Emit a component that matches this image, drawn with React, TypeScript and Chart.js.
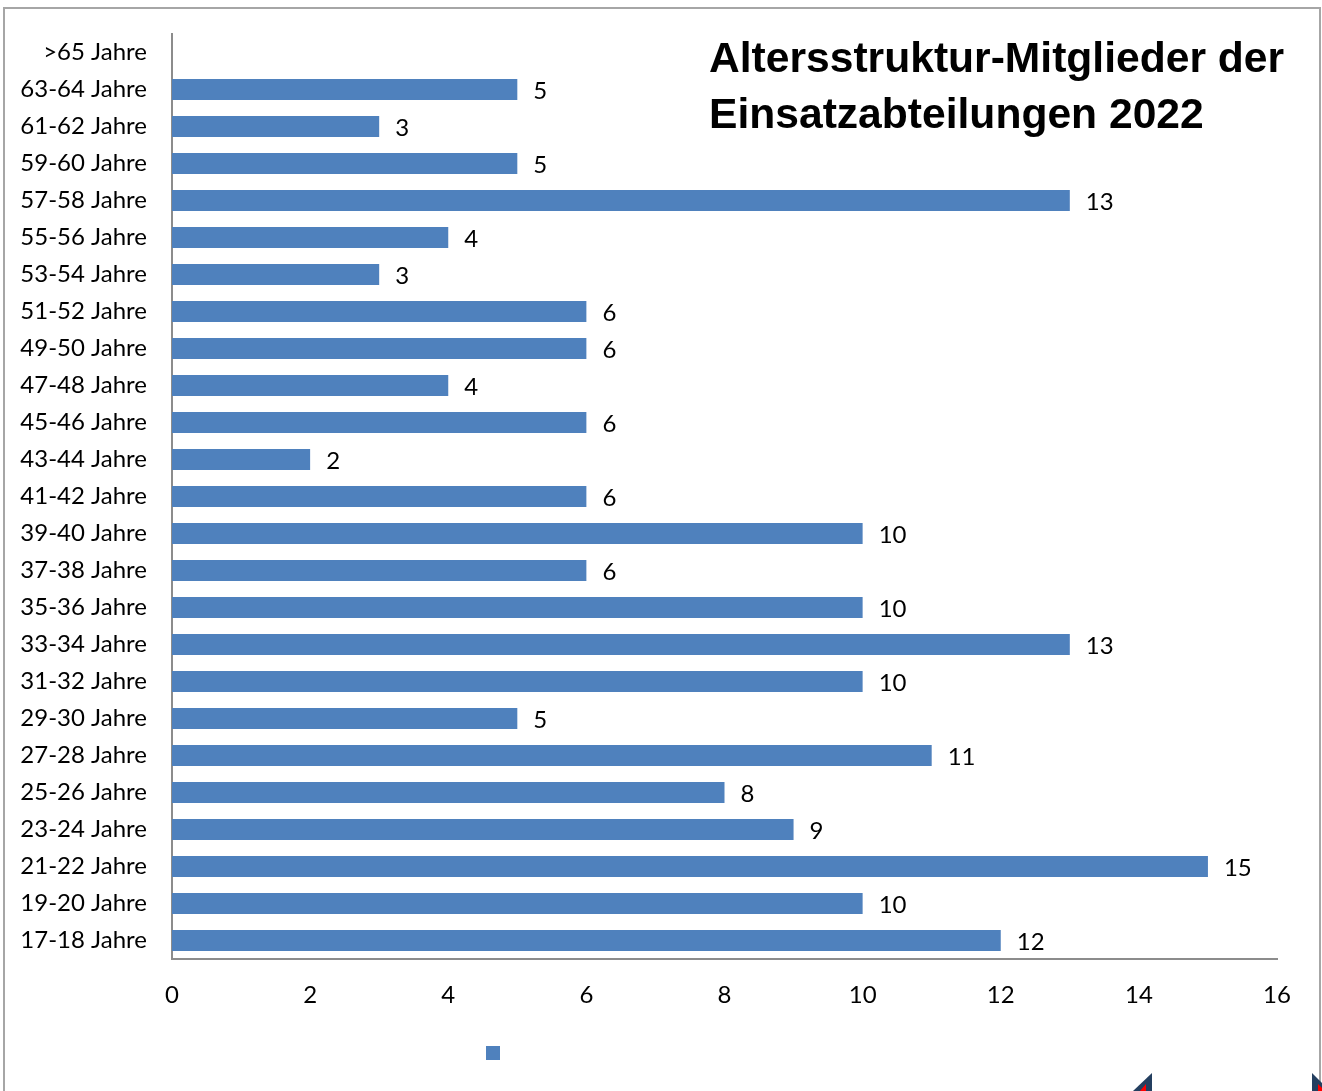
import React, { useEffect, useRef } from "react";
import { Chart, registerables } from "chart.js";

Chart.register(...registerables);

const categories: string[] = [
  ">65 Jahre", "63-64 Jahre", "61-62 Jahre", "59-60 Jahre", "57-58 Jahre",
  "55-56 Jahre", "53-54 Jahre", "51-52 Jahre", "49-50 Jahre", "47-48 Jahre",
  "45-46 Jahre", "43-44 Jahre", "41-42 Jahre", "39-40 Jahre", "37-38 Jahre",
  "35-36 Jahre", "33-34 Jahre", "31-32 Jahre", "29-30 Jahre", "27-28 Jahre",
  "25-26 Jahre", "23-24 Jahre", "21-22 Jahre", "19-20 Jahre", "17-18 Jahre",
];

const members: (number | null)[] = [
  null, 5, 3, 5, 13,
  4, 3, 6, 6, 4,
  6, 2, 6, 10, 6,
  10, 13, 10, 5, 11,
  8, 9, 15, 10, 12,
];

const titleLines: string[] = ["Altersstruktur-Mitglieder der", "Einsatzabteilungen 2022"];

const BAR = "#4F81BD";
const AXIS = "#8C8C8C";
const LABEL_FONT = "Lato, 'Open Sans', sans-serif";

const overlayPlugin = {
  id: "overlay",
  afterDatasetsDraw(chart: any) {
    const ctx = chart.ctx;
    const meta = chart.getDatasetMeta(0);
    ctx.save();
    ctx.fillStyle = "#000";
    ctx.font = `24px ${LABEL_FONT}`;
    ctx.textAlign = "left";
    ctx.textBaseline = "middle";
    meta.data.forEach((el: any, i: number) => {
      const v = members[i];
      if (v === null || v === undefined) return;
      ctx.fillText(String(v), el.x + 16, el.y + 2);
    });
    ctx.restore();
  },
  afterDraw(chart: any) {
    const ctx = chart.ctx;
    ctx.save();
    // title
    ctx.fillStyle = "#000";
    ctx.font = "bold 42.6px 'Liberation Sans', Arial, sans-serif";
    ctx.textAlign = "left";
    ctx.textBaseline = "alphabetic";
    titleLines.forEach((t, i) => ctx.fillText(t, 709, 72 + i * 56));
    // legend square (empty label)
    ctx.fillStyle = BAR;
    ctx.fillRect(486, 1046, 14, 14);
    // decorations bottom-right
    ctx.fillStyle = "#243F60";
    ctx.beginPath();
    ctx.moveTo(1152, 1073);
    ctx.lineTo(1152, 1091);
    ctx.lineTo(1133, 1091);
    ctx.closePath();
    ctx.fill();
    ctx.fillStyle = "#FF0000";
    ctx.beginPath();
    ctx.moveTo(1146, 1084);
    ctx.lineTo(1146, 1091);
    ctx.lineTo(1140, 1091);
    ctx.closePath();
    ctx.fill();
    ctx.fillStyle = "#243F60";
    ctx.beginPath();
    ctx.moveTo(1312, 1073);
    ctx.lineTo(1322, 1083);
    ctx.lineTo(1322, 1091);
    ctx.lineTo(1312, 1091);
    ctx.closePath();
    ctx.fill();
    ctx.fillStyle = "#FF0000";
    ctx.beginPath();
    ctx.moveTo(1318, 1084);
    ctx.lineTo(1322, 1088);
    ctx.lineTo(1322, 1091);
    ctx.lineTo(1318, 1091);
    ctx.closePath();
    ctx.fill();
    ctx.restore();
  },
};

export default function App() {
  const canvasRef = useRef<HTMLCanvasElement | null>(null);

  useEffect(() => {
    document.body.style.margin = "0";
    const canvas = canvasRef.current;
    if (!canvas) return;
    const chart = new Chart(canvas, {
      type: "bar",
      data: {
        labels: categories,
        datasets: [
          {
            label: "",
            data: members,
            backgroundColor: BAR,
            borderWidth: 0,
            barPercentage: 0.57,
            categoryPercentage: 1,
          },
        ],
      },
      options: {
        indexAxis: "y",
        animation: false,
        responsive: false,
        maintainAspectRatio: false,
        devicePixelRatio: 1,
        layout: { padding: { left: 0, top: 34, right: 45, bottom: 0 } },
        plugins: {
          legend: { display: false },
          title: { display: false },
          tooltip: { enabled: false },
        },
        scales: {
          x: {
            min: 0,
            max: 16,
            grid: { display: false, drawTicks: false },
            border: { display: true, color: AXIS, width: 2 },
            ticks: {
              stepSize: 2,
              padding: 22,
              color: "#000",
              font: { family: LABEL_FONT, size: 24 },
            },
            afterFit(scale: any) {
              scale.height = 132;
              scale.paddingLeft = 0;
              scale.paddingRight = 0;
            },
          },
          y: {
            grid: { display: false, drawTicks: false },
            border: { display: true, color: AXIS, width: 2 },
            ticks: {
              padding: 25,
              color: "#000",
              font: { family: LABEL_FONT, size: 24 },
              autoSkip: false,
            },
            afterFit(scale: any) {
              scale.width = 172;
              scale.paddingTop = 0;
              scale.paddingBottom = 0;
            },
          },
        },
      },
      plugins: [overlayPlugin],
    });
    return () => chart.destroy();
  }, []);

  return (
    <div style={{ position: "relative", width: 1322, height: 1091, overflow: "hidden", background: "#fff" }}>
      <div
        style={{
          position: "absolute",
          left: 3,
          top: 7,
          width: 1318,
          height: 1200,
          border: "2px solid #A6A6A6",
          boxSizing: "border-box",
        }}
      />
      <canvas
        ref={canvasRef}
        width={1322}
        height={1091}
        style={{ position: "absolute", left: 0, top: 0, width: 1322, height: 1091 }}
      />
    </div>
  );
}
